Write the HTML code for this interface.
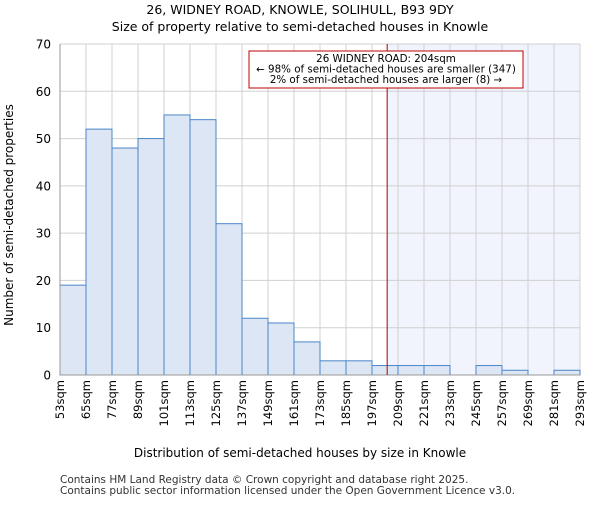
<!DOCTYPE html>
<html><head><meta charset="utf-8"><style>body{margin:0;background:#fff}svg{font-family:"DejaVu Sans","Liberation Sans",sans-serif}</style></head>
<body>
<svg id="c" width="600" height="500" xmlns="http://www.w3.org/2000/svg">
<text x="300" y="14" text-anchor="middle" font-size="12.5">26, WIDNEY ROAD, KNOWLE, SOLIHULL, B93 9DY</text>
<text x="300" y="31" text-anchor="middle" font-size="12.5">Size of property relative to semi-detached houses in Knowle</text>
<g id="g"></g>
<text x="300" y="457" text-anchor="middle" font-size="12">Distribution of semi-detached houses by size in Knowle</text>
<text transform="translate(13,215) rotate(-90)" text-anchor="middle" font-size="12">Number of semi-detached properties</text>
<text x="60" y="483" font-size="10.5" fill="#333">Contains HM Land Registry data © Crown copyright and database right 2025.</text>
<text x="60" y="494" font-size="10.5" fill="#333">Contains public sector information licensed under the Open Government Licence v3.0.</text>
</svg>
<script>
const binStarts=[53,65,77,89,101,113,125,137,149,161,173,185,197,209,221,233,245,257,269,281];
const counts=[19,52,48,50,55,54,32,12,11,7,3,3,2,2,2,0,2,1,0,1];
const tickLabels=["53sqm","65sqm","77sqm","89sqm","101sqm","113sqm","125sqm","137sqm","149sqm","161sqm","173sqm","185sqm","197sqm","209sqm","221sqm","233sqm","245sqm","257sqm","269sqm","281sqm","293sqm"];
const yTicks=[0,10,20,30,40,50,60,70];
const subjectSize=204;
const ns="http://www.w3.org/2000/svg",g=document.getElementById('g');
const X0=60,X1=580,Y0=375,Y1=44,xmin=53,xmax=293,ymax=70;
const xs=v=>X0+(v-xmin)/(xmax-xmin)*(X1-X0);
const ys=v=>Y0-v/ymax*(Y0-Y1);
function mk(t,a){const e=document.createElementNS(ns,t);for(const k in a)e.setAttribute(k,a[k]);g.appendChild(e);return e;}
let e=mk('rect',{x:xs(subjectSize),y:Y1,width:X1-xs(subjectSize),height:Y0-Y1,fill:'#f1f4fc'});


tickLabels.forEach((l,i)=>{const v=xmin+i*12;const x=xs(v);
 let ln=mk('line',{x1:x,x2:x,y1:Y1,y2:Y0,stroke:'#d0d0d0','stroke-width':1});
 
 
 let t=mk('text',{transform:`translate(${x+4},${Y0+5}) rotate(-90)`,'text-anchor':'end','font-size':11.5});
 t.textContent=l;
 
 
});
yTicks.forEach(v=>{const y=ys(v);
 let ln=mk('line',{x1:X0,x2:X1,y1:y,y2:y,stroke:'#d0d0d0','stroke-width':1});
 
 
 let t=mk('text',{x:X0-9,y:y+4.5,'text-anchor':'end','font-size':12});
 t.textContent=v;
 
 
});
counts.forEach((c,i)=>{if(!c)return;const a=xs(binStarts[i]),b=xs(binStarts[i]+12);
 let r=mk('rect',{x:a,y:ys(c),width:b-a,height:Y0-ys(c),fill:'#dde6f4',stroke:'#4a86c8','stroke-width':1});
 
 
});
e=mk('line',{x1:X0,x2:X0,y1:Y1,y2:Y0,stroke:'#999'});


e=mk('line',{x1:X0,x2:X1,y1:Y0,y2:Y0,stroke:'#999'});


const sx=xs(subjectSize);
e=mk('line',{x1:sx,x2:sx,y1:Y1,y2:Y0,stroke:'#b00000','stroke-width':1});


e=mk('rect',{x:249,y:51,width:274,height:37,fill:'#fff',stroke:'#c00000','stroke-width':1});


["26 WIDNEY ROAD: 204sqm","← 98% of semi-detached houses are smaller (347)","2% of semi-detached houses are larger (8) →"].forEach((s,i)=>{
 let t=mk('text',{x:386,y:62+i*10.5,'text-anchor':'middle','font-size':10.3});
 t.textContent=s;
 
 
});
</script>
</body></html>
